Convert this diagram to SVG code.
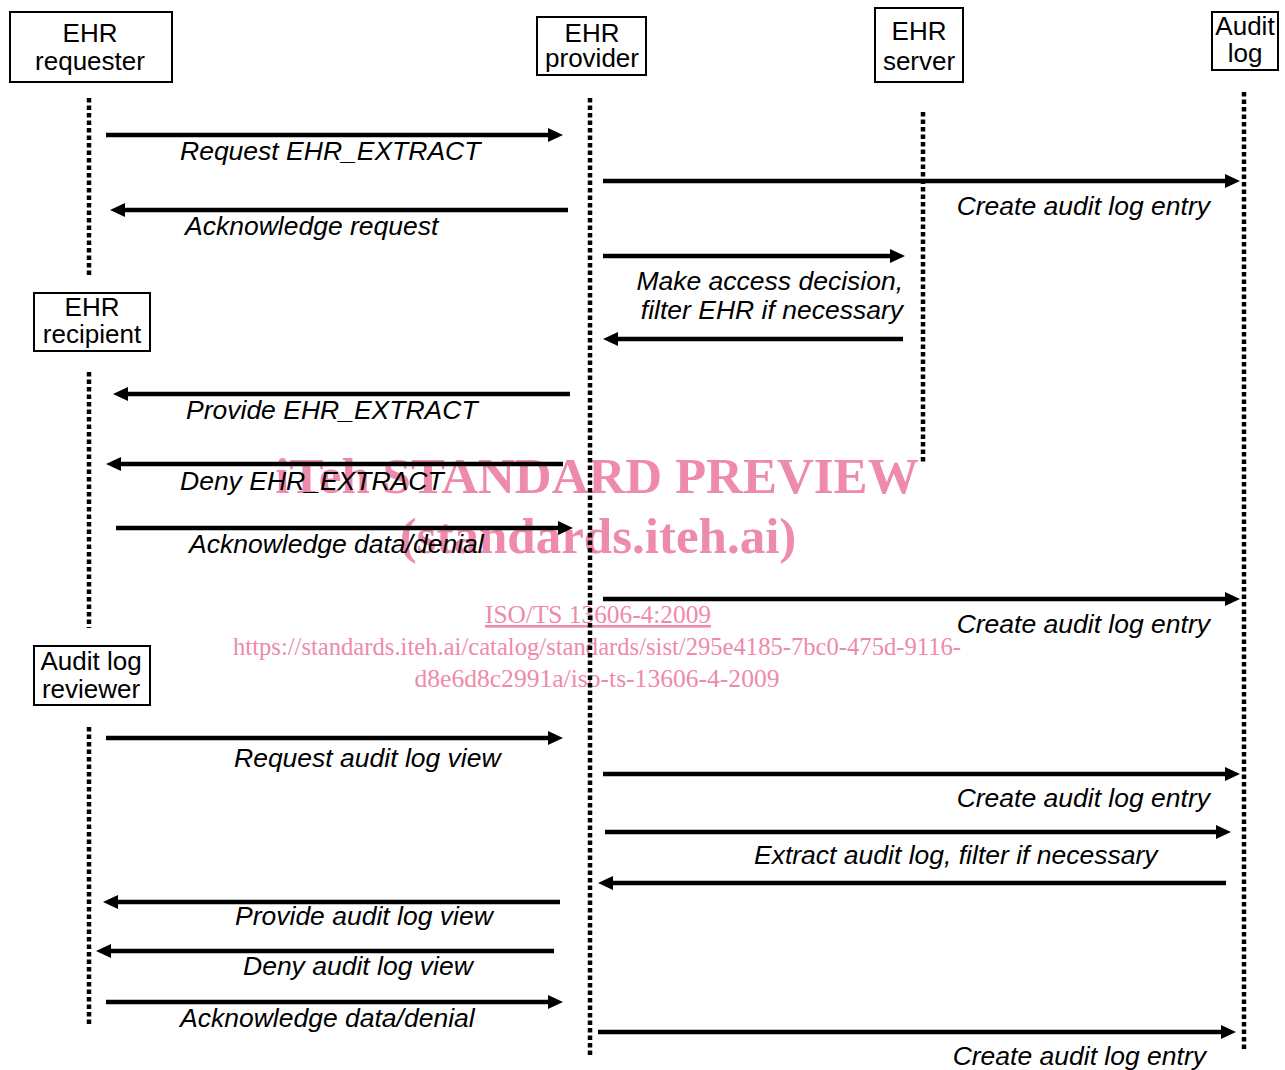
<svg xmlns="http://www.w3.org/2000/svg" width="1285" height="1070" viewBox="0 0 1285 1070">
<style>
.box{fill:#fff;stroke:#000;stroke-width:2}
.hd{font-family:"Liberation Sans",Arial,sans-serif;font-size:26px;fill:#000;text-anchor:middle}
.life{stroke:#000;stroke-width:4.5;stroke-dasharray:4.5 3;fill:none}
.msg{stroke:#000;stroke-width:4.5;fill:none;marker-end:url(#ah)}
.lb{font-family:"Liberation Sans",Arial,sans-serif;font-size:26.5px;font-style:italic;fill:#000}
.r{text-anchor:end}
.wm{font-family:"Liberation Serif","Times New Roman",serif;fill:#ee8aab;text-anchor:middle}
</style>
<defs>
<marker id="ah" markerUnits="userSpaceOnUse" markerWidth="16" markerHeight="16" refX="5" refY="8" orient="auto">
<path d="M0,1 L15,8 L0,15 Z" fill="#000"/>
</marker>
</defs>
<g id="watermark">
<text class="wm" x="597" y="493" font-size="51" font-weight="bold">iTeh STANDARD PREVIEW</text>
<text class="wm" x="598" y="553" font-size="51" font-weight="bold">(standards.iteh.ai)</text>
<text class="wm" x="598" y="623" font-size="26" text-decoration="underline" textLength="226" lengthAdjust="spacingAndGlyphs">ISO/TS 13606-4:2009</text>
<text class="wm" x="597" y="655" font-size="26" textLength="728" lengthAdjust="spacingAndGlyphs">https://standards.iteh.ai/catalog/standards/sist/295e4185-7bc0-475d-9116-</text>
<text class="wm" x="597" y="687" font-size="26" textLength="365" lengthAdjust="spacingAndGlyphs">d8e6d8c2991a/iso-ts-13606-4-2009</text>
</g>
<g id="lifelines">
<line class="life" x1="89" y1="98" x2="89" y2="276"/>
<line class="life" x1="89" y1="372" x2="89" y2="628"/>
<line class="life" x1="89" y1="727" x2="89" y2="1026"/>
<line class="life" x1="590" y1="98" x2="590" y2="1058"/>
<line class="life" x1="923" y1="112" x2="923" y2="463"/>
<line class="life" x1="1244" y1="92" x2="1244" y2="1052"/>
</g>
<g id="ehr-requester">
<rect class="box" x="10" y="12" width="162" height="70"/>
<text class="hd" x="90" y="42">EHR</text>
<text class="hd" x="90" y="70">requester</text>
</g>
<g id="ehr-provider">
<rect class="box" x="537" y="17" width="109" height="58"/>
<text class="hd" x="592" y="42">EHR</text>
<text class="hd" x="592" y="67">provider</text>
</g>
<g id="ehr-server">
<rect class="box" x="875" y="8" width="88" height="74"/>
<text class="hd" x="919" y="40">EHR</text>
<text class="hd" x="919" y="70">server</text>
</g>
<g id="audit-log">
<rect class="box" x="1212" y="12" width="66" height="58"/>
<text class="hd" x="1245" y="35">Audit</text>
<text class="hd" x="1245" y="62">log</text>
</g>
<g id="ehr-recipient">
<rect class="box" x="34" y="293" width="116" height="58"/>
<text class="hd" x="92" y="316">EHR</text>
<text class="hd" x="92" y="343">recipient</text>
</g>
<g id="audit-log-reviewer">
<rect class="box" x="34" y="646" width="116" height="59"/>
<text class="hd" x="91" y="670">Audit log</text>
<text class="hd" x="91" y="698">reviewer</text>
</g>
<g id="connectors">
<line class="msg" x1="106" y1="135" x2="553" y2="135"/>
<line class="msg" x1="603" y1="181" x2="1230" y2="181"/>
<line class="msg" x1="568" y1="210" x2="120" y2="210"/>
<line class="msg" x1="603" y1="256" x2="895" y2="256"/>
<line class="msg" x1="903" y1="339" x2="613" y2="339"/>
<line class="msg" x1="570" y1="394" x2="123" y2="394"/>
<line class="msg" x1="563" y1="464" x2="116" y2="464"/>
<line class="msg" x1="116" y1="528" x2="563" y2="528"/>
<line class="msg" x1="603" y1="599" x2="1230" y2="599"/>
<line class="msg" x1="106" y1="738" x2="553" y2="738"/>
<line class="msg" x1="603" y1="774" x2="1230" y2="774"/>
<line class="msg" x1="605" y1="832" x2="1221" y2="832"/>
<line class="msg" x1="1226" y1="883" x2="608" y2="883"/>
<line class="msg" x1="560" y1="902" x2="113" y2="902"/>
<line class="msg" x1="554" y1="951" x2="106" y2="951"/>
<line class="msg" x1="106" y1="1002" x2="553" y2="1002"/>
<line class="msg" x1="598" y1="1032" x2="1226" y2="1032"/>
</g>
<g id="labels">
<text class="lb" x="180" y="160">Request EHR_EXTRACT</text>
<text class="lb r" x="1210" y="215">Create audit log entry</text>
<text class="lb" x="185" y="235">Acknowledge request</text>
<text class="lb r" x="903" y="290">Make access decision,</text>
<text class="lb r" x="903" y="319">filter EHR if necessary</text>
<text class="lb" x="186" y="419">Provide EHR_EXTRACT</text>
<text class="lb" x="180" y="490">Deny EHR_EXTRACT</text>
<text class="lb" x="189" y="553">Acknowledge data/denial</text>
<text class="lb r" x="1210" y="633">Create audit log entry</text>
<text class="lb" x="234" y="767">Request audit log view</text>
<text class="lb r" x="1210" y="807">Create audit log entry</text>
<text class="lb" x="754" y="864">Extract audit log, filter if necessary</text>
<text class="lb" x="235" y="925">Provide audit log view</text>
<text class="lb" x="243" y="975">Deny audit log view</text>
<text class="lb" x="180" y="1027">Acknowledge data/denial</text>
<text class="lb r" x="1206" y="1065">Create audit log entry</text>
</g>
</svg>
